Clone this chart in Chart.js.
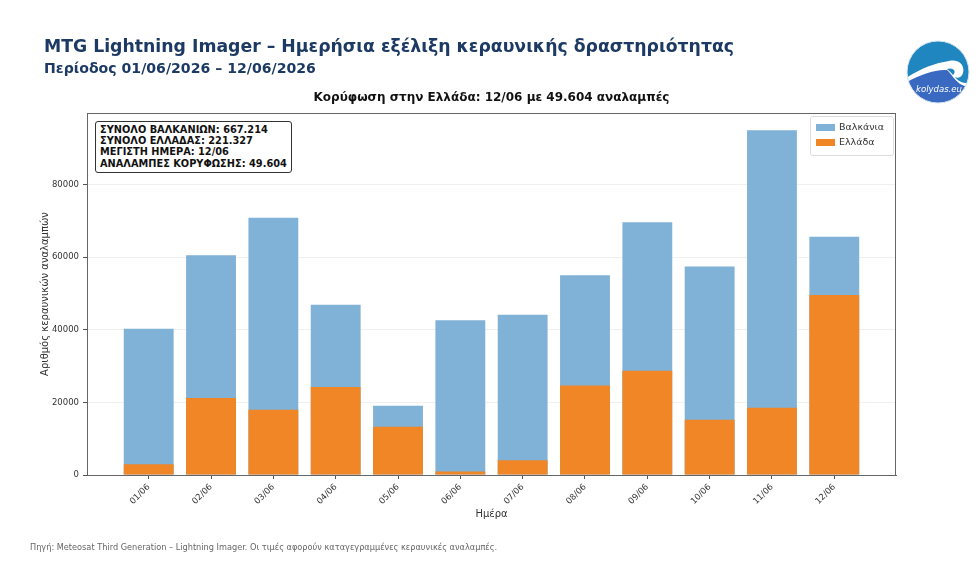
<!DOCTYPE html>
<html>
<head>
<meta charset="utf-8">
<script src="https://cdn.jsdelivr.net/npm/chart.js@4.4.1/dist/chart.umd.min.js"></script>
<style>
  html, body { margin: 0; padding: 0; background: #fff; }
  #wrap { position: relative; width: 980px; height: 572px; overflow: hidden; font-family: "DejaVu Sans", sans-serif; }
  #chart { position: absolute; left: 0; top: 0; }
  .title { position: absolute; left: 44px; top: 36px; font-size: 17.3px; font-weight: bold; color: #1d3a64; white-space: nowrap; }
  .subtitle { position: absolute; left: 44px; top: 60px; font-size: 14.1px; font-weight: bold; color: #1d3a64; white-space: nowrap; }
  .ctitle { position: absolute; left: 87px; width: 809px; top: 90px; text-align: center; font-size: 12px; font-weight: bold; color: #111; white-space: nowrap; }
  .note { position: absolute; left: 30px; top: 542px; font-size: 8.2px; color: #666; white-space: nowrap; }
  .stats { position: absolute; left: 95px; top: 121px; padding: 2px 4px 3px 4px; border: 1.3px solid #333; border-radius: 3px; background: #fff;
           font-size: 9.8px; font-weight: bold; line-height: 11.2px; color: #111; white-space: nowrap; }
  .legend { position: absolute; left: 810px; top: 116px; width: 82px; height: 38px; border: 1px solid #ddd; border-radius: 3px; background: rgba(255,255,255,0.9);
            font-size: 9.5px; color: #333; }
  .legend div { position: absolute; left: 28px; white-space: nowrap; }
  .legend span { position: absolute; left: -23px; top: 3px; width: 19px; height: 7px; }
  #logo { position: absolute; left: 905px; top: 39px; }
</style>
</head>
<body>
<div id="wrap">
  <canvas id="chart" width="980" height="572"></canvas>
  <div class="title">MTG Lightning Imager – Ημερήσια εξέλιξη κεραυνικής δραστηριότητας</div>
  <div class="subtitle">Περίοδος 01/06/2026 – 12/06/2026</div>
  <div class="ctitle">Κορύφωση στην Ελλάδα: 12/06 με 49.604 αναλαμπές</div>
  <div class="stats" id="stats"></div>
  <div class="legend" id="legend"></div>
  <div class="note">Πηγή: Meteosat Third Generation – Lightning Imager. Οι τιμές αφορούν καταγεγραμμένες κεραυνικές αναλαμπές.</div>
  <svg id="logo" width="66" height="66" viewBox="0 0 66 66">
    <defs><clipPath id="cc"><circle cx="33" cy="33" r="31"/></clipPath></defs>
    <g clip-path="url(#cc)">
      <rect x="0" y="0" width="66" height="66" fill="#1f86bf"/>
      <path d="M0 40 C14 30 30 24 44 22 C54 20 60 26 58 34 C56 40 50 40 48 36 C52 32 48 28 42 30 C50 36 52 46 66 44 L66 66 L0 66 Z" fill="#fff"/>
      <path d="M0 44 C14 36 30 30 42 31 C48 36 52 48 66 48 L66 66 L0 66 Z" fill="#3a69c2"/>
    </g>
    <circle cx="33" cy="33" r="31" fill="none" stroke="#d8e6f0" stroke-width="1"/>
    <text x="34" y="53" text-anchor="middle" font-family="DejaVu Sans" font-style="italic" font-size="8.5" fill="#fff">kolydas.eu</text>
  </svg>
</div>
<script>
// ημέρες
var days = ['01/06', '02/06', '03/06', '04/06', '05/06', '06/06', '07/06', '08/06', '09/06', '10/06', '11/06', '12/06'];
// αναλαμπές ανά ημέρα
var balkans = [40300, 60550, 70870, 46930, 19050, 42610, 44170, 55030, 69660, 57430, 94980, 65634];
var greece = [2960, 21180, 17960, 24210, 13260, 930, 4070, 24680, 28753, 15200, 18520, 49604];
var seriesNames = ['Βαλκάνια', 'Ελλάδα'];
var seriesColors = ['#80b1d6', '#f08626'];
var yTicks = [0, 20000, 40000, 60000, 80000];
var statsLines = ['ΣΥΝΟΛΟ ΒΑΛΚΑΝΙΩΝ: 667.214', 'ΣΥΝΟΛΟ ΕΛΛΑΔΑΣ: 221.327', 'ΜΕΓΙΣΤΗ ΗΜΕΡΑ: 12/06', 'ΑΝΑΛΑΜΠΕΣ ΚΟΡΥΦΩΣΗΣ: 49.604'];

document.getElementById('stats').innerHTML = statsLines.join('<br>');
var leg = document.getElementById('legend');
for (var i = 0; i < seriesNames.length; i++) {
	var d = document.createElement('div');
	d.style.top = (4 + i * 15) + 'px';
	d.innerHTML = '<span style="background:' + seriesColors[i] + '"></span>' + seriesNames[i];
	leg.appendChild(d);
}

function points(arr) {
	var out = [];
	for (var i = 0; i < arr.length; i++) out.push({x: i, y: arr[i]});
	return out;
}

// πλαίσιο γύρω από την περιοχή του γραφήματος
var framePlugin = {
	id: 'frame',
	afterDatasetsDraw: function(chart) {
		var a = chart.chartArea, ctx = chart.ctx;
		ctx.save();
		ctx.strokeStyle = '#666';
		ctx.lineWidth = 1;
		ctx.strokeRect(a.left + 0.5, a.top + 0.5, a.right - a.left - 1, a.bottom - a.top);
		ctx.restore();
	}
};

var ctx = document.getElementById('chart').getContext('2d');
var chart = new Chart(ctx, {
	type: 'bar',
	data: {
		datasets: [{
			label: seriesNames[0],
			data: points(balkans),
			backgroundColor: seriesColors[0],
			order: 2
		}, {
			label: seriesNames[1],
			data: points(greece),
			backgroundColor: seriesColors[1],
			order: 1
		}]
	},
	options: {
		responsive: false,
		devicePixelRatio: 1,
		animation: false,
		layout: { padding: { left: 0, top: 113, right: 84, bottom: 37 } },
		datasets: { bar: { grouped: false, barPercentage: 0.8, categoryPercentage: 1.0 } },
		plugins: {
			legend: { display: false },
			title: { display: false },
			tooltip: { enabled: false }
		},
		scales: {
			x: {
				type: 'linear',
				min: -0.99,
				max: 11.99,
				offset: false,
				afterFit: function(s) { s.height = 60; },
				afterBuildTicks: function(s) {
					s.ticks = days.map(function(d, i) { return {value: i}; });
				},
				ticks: {
					autoSkip: false,
					minRotation: 45,
					maxRotation: 45,
					padding: 3,
					color: '#333',
					font: { family: 'DejaVu Sans', size: 8.5 },
					callback: function(v) { return days[v]; }
				},
				grid: { offset: false, drawOnChartArea: false, tickLength: 4, tickColor: '#555' },
				border: { color: '#666' },
				title: {
					display: true,
					text: 'Ημέρα',
					color: '#333',
					font: { family: 'DejaVu Sans', size: 10 },
					padding: { top: 0, bottom: 15 }
				}
			},
			y: {
				min: 0,
				max: 99730,
				afterFit: function(s) { s.width = 87; },
				afterBuildTicks: function(s) {
					s.ticks = yTicks.map(function(v) { return {value: v}; });
				},
				ticks: {
					padding: 4,
					color: '#333',
					font: { family: 'DejaVu Sans', size: 8.5 },
					callback: function(v) { return String(v); }
				},
				grid: { color: 'rgba(0,0,0,0.06)', tickLength: 4, tickColor: '#555' },
				border: { color: '#666' },
				title: {
					display: true,
					text: 'Αριθμός κεραυνικών αναλαμπών',
					color: '#333',
					font: { family: 'DejaVu Sans', size: 10 },
					padding: { top: 39, bottom: 0 }
				}
			}
		}
	},
	plugins: [framePlugin]
});
</script>
</body>
</html>
